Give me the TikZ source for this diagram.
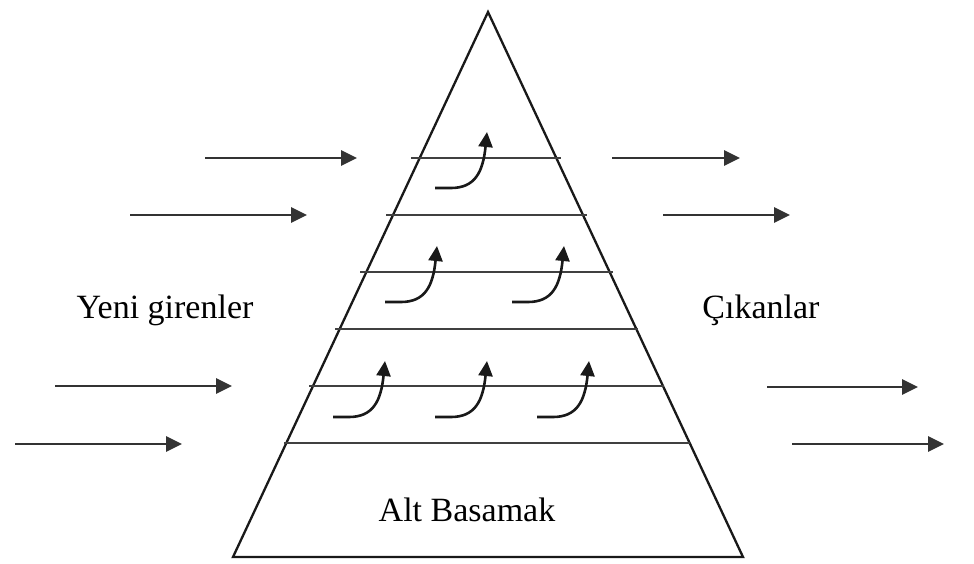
\documentclass[tikz,border=0pt]{standalone}
\usepackage{fontspec}
\setmainfont{Liberation Serif}
\usetikzlibrary{arrows.meta,calc}
\begin{document}
\begin{tikzpicture}[x=1pt,y=-1pt,
  edge/.style={line width=2.3pt, draw=black!90},
  level/.style={line width=2.6pt, draw=black!75},
  flow/.style={line width=2.8pt, draw=black!80, -{Triangle[length=16pt,width=15pt]}},
  rise/.style={line width=2.6pt, draw=black!90, -{Triangle[length=15pt,width=14pt]}},
  lbl/.style={font=\fontsize{34}{40}\selectfont, inner sep=0pt, anchor=base}]
\useasboundingbox[fill=white] (0,0) rectangle (974,563);
% pyramid
\coordinate (apex) at (488,12);
\coordinate (bl) at (233,557);
\coordinate (br) at (743,557);
\draw[edge, line join=miter] (apex) -- (bl) -- (br) -- cycle;
% levels
\foreach \i/\y/\l/\r in {1/158/411/561, 2/215/386/587, 3/272/360/613, 4/329/335/638, 5/386/309/664, 6/443/284/690} {
  \coordinate (lvl\i a) at (\l,\y);
  \coordinate (lvl\i b) at (\r,\y);
  \draw[level] (lvl\i a) -- (lvl\i b);
}
% rising arrows
\foreach \i/\x/\y in {1/435/188, 2/385/302, 3/512/302, 4/333/417, 5/435/417, 6/537/417} {
  \coordinate (s\i) at (\x,\y);
  \coordinate (t\i) at ({\x+52},{\y-56});
  \draw[rise] (s\i) -- ($(s\i)+(16,0)$) .. controls ($(s\i)+(40,0)$) and ($(t\i)+(-4,40)$) .. (t\i);
}
% entering arrows
\foreach \i/\a/\b/\y in {1/205/357/158, 2/130/307/215, 3/55/232/386, 4/15/182/444} {
  \coordinate (in\i a) at (\a,\y);
  \coordinate (in\i b) at (\b,\y);
  \draw[flow] (in\i a) -- (in\i b);
}
% leaving arrows
\foreach \i/\a/\b/\y in {1/612/740/158, 2/663/790/215, 3/767/918/387, 4/792/944/444} {
  \coordinate (out\i a) at (\a,\y);
  \coordinate (out\i b) at (\b,\y);
  \draw[flow] (out\i a) -- (out\i b);
}
% labels
\node[lbl] (yeni) at (165,318) {Yeni girenler};
\node[lbl] (cik) at (761,318) {Çıkanlar};
\node[lbl] (alt) at (467,521) {Alt Basamak};
\end{tikzpicture}
\end{document}
